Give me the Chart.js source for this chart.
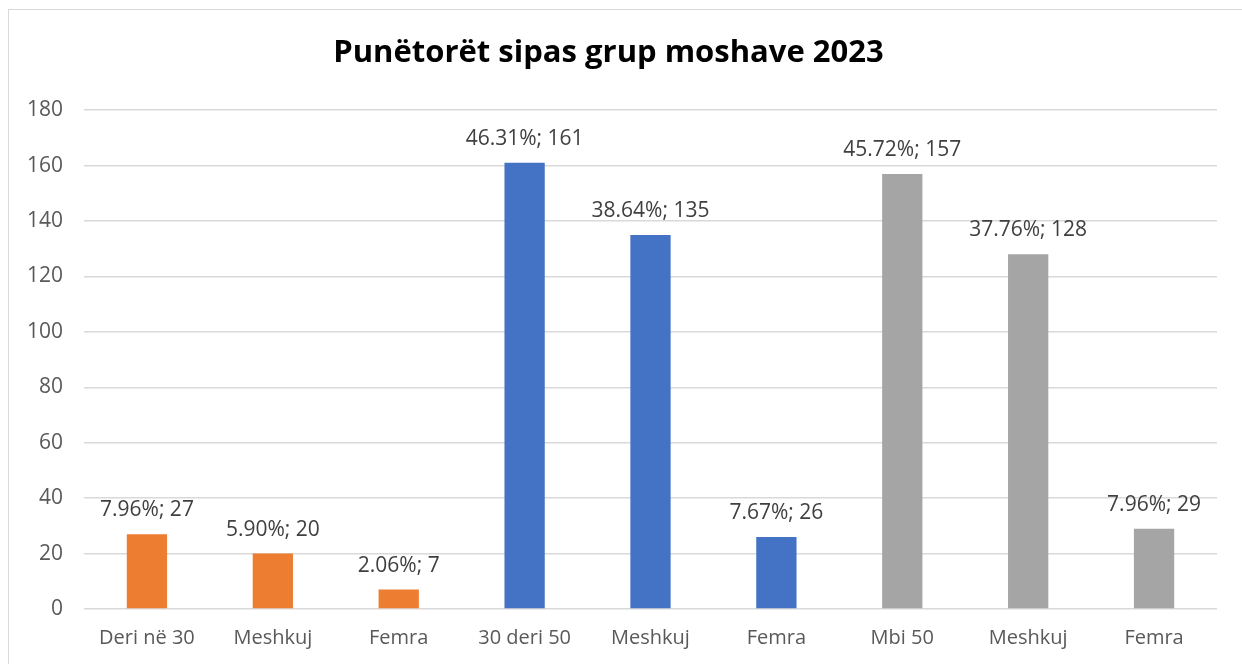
<!DOCTYPE html>
<html>
<head>
<meta charset="utf-8">
<script src="https://cdn.jsdelivr.net/npm/chart.js@4"></script>
<style>
  html, body { margin: 0; padding: 0; background: #fff; overflow: hidden; }
  #wrap { position: absolute; left: 0; top: 0; width: 1242px; height: 664px; }
  #frame { position: absolute; left: 8px; top: 9px; width: 1260px; height: 700px; border: 1px solid #d9d9d9; box-sizing: border-box; pointer-events: none; }
</style>
</head>
<body>
<div id="frame"></div>
<div id="wrap"><canvas id="c" width="1242" height="664"></canvas></div>
<script>
const categories = ['Deri në 30', 'Meshkuj', 'Femra', '30 deri 50', 'Meshkuj', 'Femra', 'Mbi 50', 'Meshkuj', 'Femra'];
const counts = [27, 20, 7, 161, 135, 26, 157, 128, 29];
const percents = ['7.96%', '5.90%', '2.06%', '46.31%', '38.64%', '7.67%', '45.72%', '37.76%', '7.96%'];
const barColors = ['#ED7D31', '#ED7D31', '#ED7D31', '#4472C4', '#4472C4', '#4472C4', '#A5A5A5', '#A5A5A5', '#A5A5A5'];
const yTicks = [0, 20, 40, 60, 80, 100, 120, 140, 160, 180];

const FONT = "'Open Sans', 'Noto Sans', sans-serif";

const barLabels = {
  id: 'barLabels',
  afterDatasetsDraw(chart) {
    const ctx = chart.ctx;
    const meta = chart.getDatasetMeta(0);
    ctx.save();
    ctx.font = '21px ' + FONT;
    ctx.fillStyle = '#404040';
    ctx.textAlign = 'center';
    ctx.textBaseline = 'middle';
    meta.data.forEach((bar, i) => {
      ctx.fillText(percents[i] + '; ' + counts[i], bar.x, bar.y - 24);
    });
    ctx.restore();
  }
};

new Chart(document.getElementById('c'), {
  type: 'bar',
  data: {
    labels: categories,
    datasets: [{
      data: counts,
      backgroundColor: barColors,
      borderWidth: 0,
      categoryPercentage: 0.8,
      barPercentage: 0.4
    }]
  },
  options: {
    responsive: false,
    animation: false,
    layout: { padding: { left: 0, right: 25, top: 0, bottom: 11 } },
    plugins: {
      legend: { display: false },
      tooltip: { enabled: false },
      title: {
        display: true,
        text: 'Punëtorët sipas grup moshave 2023',
        color: '#000',
        font: { family: FONT, size: 31, weight: 'bold' },
        padding: { top: 35, bottom: 38 }
      }
    },
    scales: {
      y: {
        min: 0,
        max: 180,
        afterBuildTicks(scale) { scale.ticks = yTicks.map(v => ({ value: v })); },
        afterFit(scale) { scale.width = 84; },
        border: { display: false },
        grid: { color: '#d9d9d9', lineWidth: 1.5, drawTicks: false },
        ticks: { color: '#595959', padding: 21, font: { family: FONT, size: 21 } }
      },
      x: {
        afterFit(scale) { scale.height = 44; },
        border: { display: false },
        grid: { display: false, drawTicks: false },
        ticks: { color: '#595959', padding: 17, font: { family: FONT, size: 20 } }
      }
    }
  },
  plugins: [barLabels]
});
</script>
</body>
</html>
